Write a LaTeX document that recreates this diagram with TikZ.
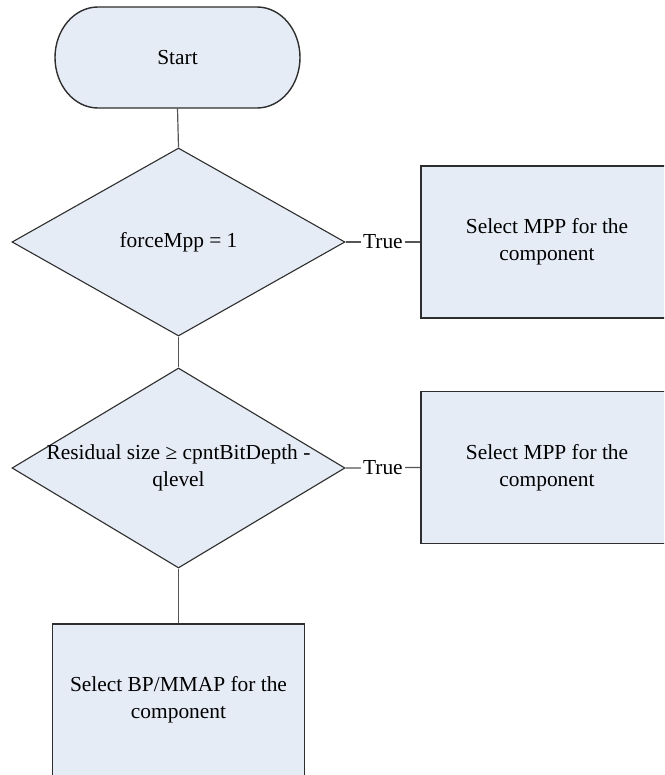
\documentclass[tikz,border=0pt]{standalone}
\usepackage{fontspec}
\setmainfont{Liberation Serif}
\usetikzlibrary{shapes.geometric}
\definecolor{shapefill}{HTML}{E5ECF6}
\definecolor{edgecol}{HTML}{2E2E2E}
\definecolor{linkcol}{HTML}{555555}
\begin{document}
\begin{tikzpicture}[x=0.5pt,y=-0.5pt,
  every node/.style={font=\fontsize{10.7pt}{13.5pt}\selectfont, text=black},
  procbox/.style={rectangle, draw=edgecol, line width=0.8pt, fill=shapefill,
    minimum width=126pt, minimum height=76pt, align=center, inner sep=0pt},
  decision/.style={diamond, draw=edgecol, line width=0.55pt, fill=shapefill,
    minimum width=166.5pt, inner sep=0pt},
  link/.style={draw=linkcol, line width=0.6pt},
  linklabel/.style={fill=white, inner sep=1pt},
  terminal/.style={fill=shapefill, draw=edgecol, line width=0.7pt}]

\useasboundingbox (0,0) rectangle (664,775);
\clip (0,0) rectangle (664,775);

% start terminator with elliptical ends (radii in canvas units)
\path[terminal] (98,7) -- (257,7) arc[start angle=90,end angle=-90,x radius=21.5pt,y radius=25.25pt]
  -- (98,108) arc[start angle=270,end angle=90,x radius=21.5pt,y radius=25.25pt] -- cycle;
\node[minimum width=122.5pt, minimum height=50.5pt, inner sep=0pt] (start) at (177.5,57.5) {Start};

% decisions
\node[decision, minimum height=94pt, label={center:forceMpp = 1}] (d1) at (178.5,242) {};
\node[decision, minimum height=100pt,
  label={[align=center]center:Residual size ≥ cpntBitDepth -\\qlevel}] (d2) at (178.5,468) {};

% process boxes
\node[procbox] (b1) at (547,242) {Select MPP for the\\component};
\node[procbox] (b2) at (547,467.5) {Select MPP for the\\component};
\node[procbox] (b3) at (178.5,700) {Select BP/MMAP for the\\component};

% connectors
\draw[link] (start.south) -- (d1.north);
\draw[link] (d1.east) -- node[linklabel] {True} (b1.west);
\draw[link] (d1.south) -- (d2.north);
\draw[link] (d2.east) -- node[linklabel] {True} (b2.west);
\draw[link] (d2.south) -- (b3.north);
\end{tikzpicture}
\end{document}
